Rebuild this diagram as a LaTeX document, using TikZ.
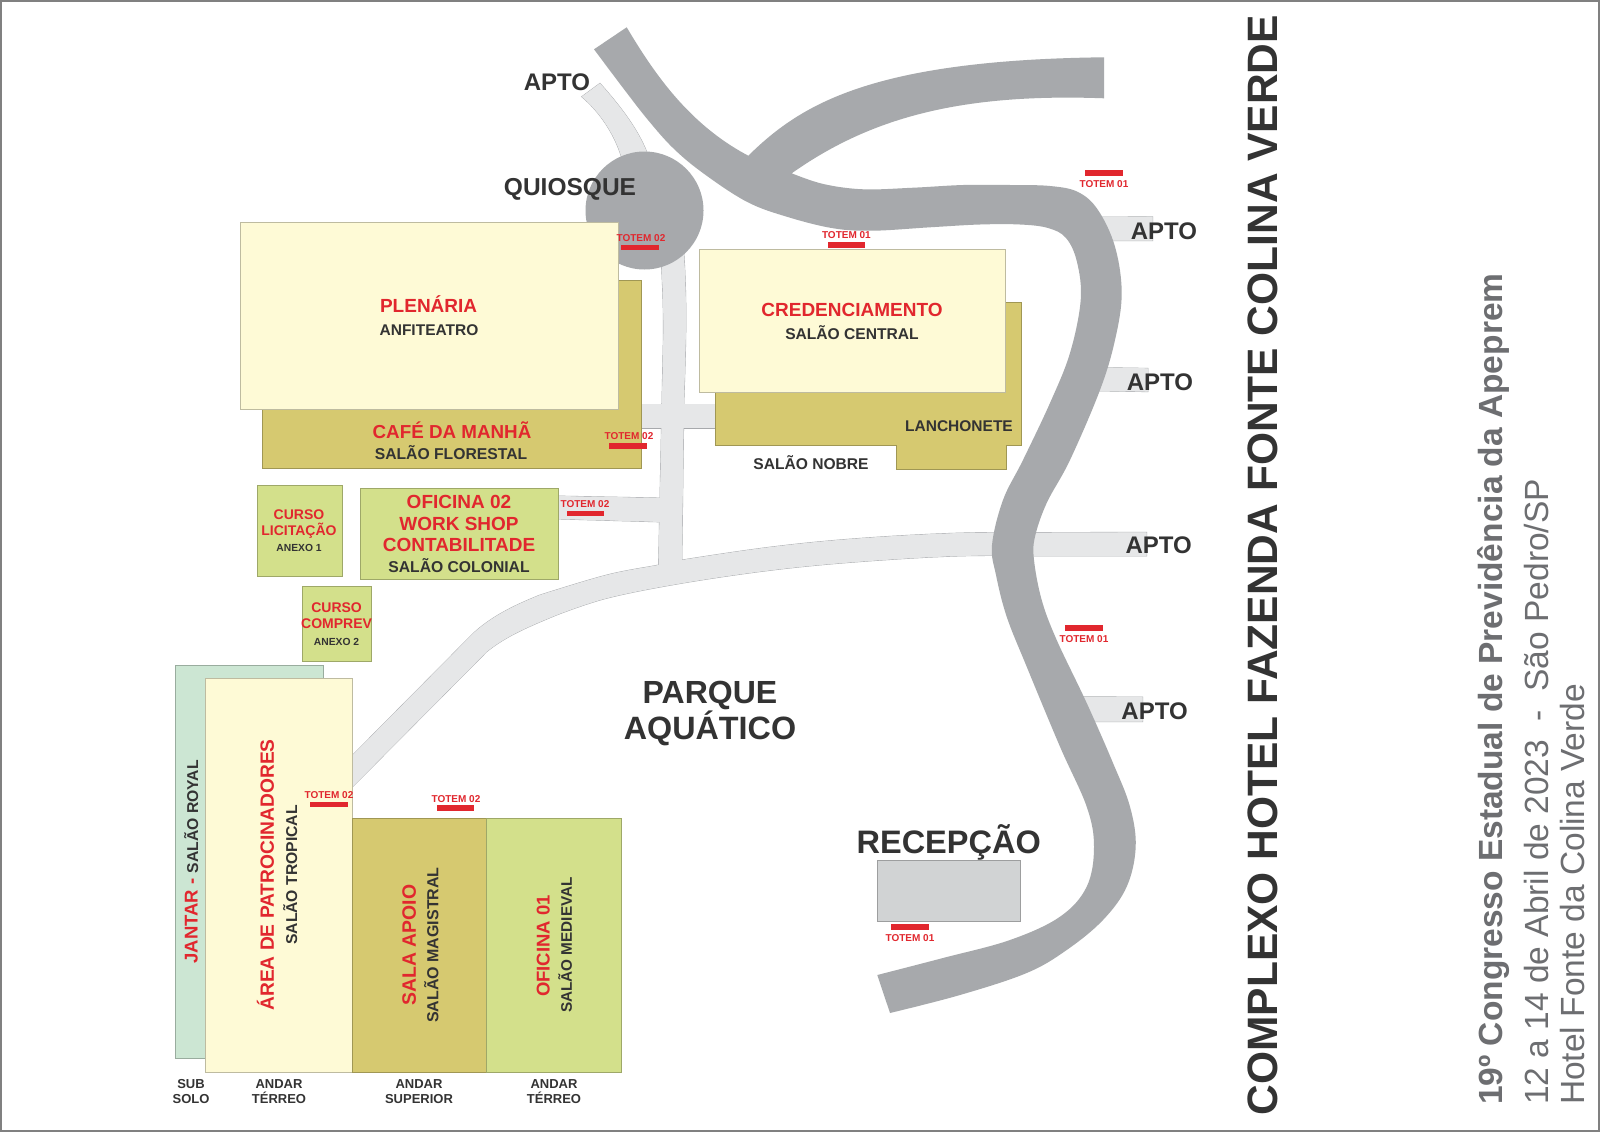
\documentclass[tikz,border=0pt]{standalone}
\usepackage{fontspec}
\setmainfont{Liberation Sans}
\definecolor{rd}{HTML}{E1272E}
\definecolor{dk}{HTML}{333333}
\definecolor{sub}{HTML}{6D6E71}
\definecolor{road}{HTML}{A7A9AC}
\definecolor{lroad}{HTML}{E6E7E8}
\definecolor{cream}{HTML}{FEFAD6}
\definecolor{khaki}{HTML}{D6C970}
\definecolor{lime}{HTML}{D3E08B}
\definecolor{mint}{HTML}{CCE6D3}
\definecolor{recep}{HTML}{D1D3D4}
\newcommand\lightroads[1]{%
  \path[#1] (581.7,96.7) .. controls (600,112) and (615,135) .. (621.7,158) -- (646.7,158) -- (646.7,151.7) .. controls (638,130) and (622,108) .. (600,83.3) -- cycle;
  \path[#1] (660,240) .. controls (663,290) and (664,320) .. (663,350) -- (658.3,575) -- (681.7,575) -- (684,400) .. controls (686,340) and (687.5,300) .. (683,240) -- cycle;
  \path[#1] (638,404) rectangle (718,428);
  \path[#1] (558,496) -- (662,498) -- (662,522) -- (558,519) -- cycle;
  \path[#1] (352.7,755) -- (473.3,633.3) .. controls (490,618) and (510,607) .. (540,595)
     -- plot[smooth,tension=.6] coordinates {(540,595)(606.7,575)(658.3,565)(681.7,560)(773.3,546.7)(860,538.3)(960,533)(1050,532.5)(1146.7,532.3)}
     -- (1146.7,556)
     -- plot[smooth,tension=.6] coordinates {(1146.7,556)(1050,556)(960,556)(860,561.7)(773.3,570)(681.7,583.3)(606.7,598.3)(556.7,615)}
     .. controls (525,628) and (505,637) .. (486.7,651.7) -- (352.7,786.7) -- cycle;
  \path[#1] (1090,217.2) -- (1152.7,216.7) -- (1152.7,240.7) -- (1095,240.7) -- cycle;
  \path[#1] (1085,367.3) -- (1148,368.3) -- (1148,391.7) -- (1085,390.7) -- cycle;
  \path[#1] (1070,696.7) -- (1142.7,697) -- (1142.7,721.7) -- (1080,721.7) -- cycle;
}
\tikzset{
  lab/.style={font=\fontsize{#1}{#1}\selectfont\bfseries,inner sep=0pt,text height=0.716*#1pt,text depth=0pt,text=dk},
  redl/.style={lab=#1,text=rd},
  vert/.style={rotate=90},
  room/.style={draw=#1!75!black,line width=.5pt},
  bar/.style={fill=rd},
}
\begin{document}
\begin{tikzpicture}[x=1pt,y=-1pt]
\useasboundingbox (0,0) rectangle (1600,1132);
\fill[white] (0,0) rectangle (1600,1132);
\draw[gray,line width=2pt] (1,1) rectangle (1599,1131);
% light roads
\lightroads{draw=road,line width=.8pt}
\lightroads{fill=lroad}
% main road
\fill[road]
  (626.7,27.3) .. controls (655,75) and (690,125) .. (748.3,155.7)
  .. controls (800,105) and (870,60) .. (1104,57.3)
  -- (1104,98.3)
  .. controls (960,93) and (870,118) .. (791.7,173.3)
  -- plot[smooth,tension=.6] coordinates {(791.7,173.3)(823.3,184)(863.3,189.3)(913.3,187.7)(963.3,185)(1010,185)(1050,186)(1078,192)(1098,210)(1115,246.7)(1121.7,293.3)(1115,340)(1100,390)(1070,460)(1046.7,503)(1035,536.7)(1034,560)(1041.7,600)(1056.7,640)(1086.7,703)(1113,763)(1130,806.7)(1135.7,846.7)(1126.7,886.7)(1103,920)(1066.7,950)(1026.7,973)(960,995)(890,1013)}
  -- (877.3,975)
  -- plot[smooth,tension=.6] coordinates {(877.3,975)(943,958)(1010,940)(1060,916.7)(1086.7,886.7)(1094,846.7)(1086.7,806.7)(1060,746.7)(1026.7,666.7)(1006.7,616.7)(996,575)(992,545)(1003,500)(1023,460)(1050,403)(1070,353)(1080.7,300)(1077,262)(1066,238)(1048,228)(1020,224.5)(980,224.5)(930,227.3)(873,230.7)(833.3,228.3)(786.7,216.7)(746.7,201.7)(703.3,173.3)(673.3,148.3)(648,120)(623.3,88.3)(594,49.3)}
  -- cycle;
\fill[road] (644.5,210.5) circle[radius=59];
% rooms
\path[fill=khaki,room=khaki] (262,280) rectangle (641,468);
\path[fill=cream,room=cream] (240,222) rectangle (618,409);
\path[fill=khaki,room=khaki] (1005,302) -- (1021,302) -- (1021,445) -- (1006,445) -- (1006,469) -- (896,469) -- (896,445) -- (715,445) -- (715,385) -- (1005,385) -- cycle;
\path[fill=cream,room=cream] (699,249) rectangle (1005,392);
\path[fill=lime,room=lime] (257,485) rectangle (342,576.6);
\path[fill=lime,room=lime] (360,488) rectangle (558,579.6);
\path[fill=lime,room=lime] (302.7,586) rectangle (371.4,661.4);
\path[fill=mint,room=mint] (175.4,665) rectangle (322.8,1058.7);
\path[fill=cream,room=cream] (205.4,678.6) rectangle (352,1072);
\path[fill=khaki,room=khaki] (352,818) rectangle (486.6,1072);
\path[fill=lime,room=lime] (486.6,818) rectangle (621.4,1072);
\path[fill=recep,room=recep] (877.5,860) rectangle (1020.4,921);
% totem bars
\fill[bar] (1085,170) rectangle (1123,175.5);
\fill[bar] (621.4,244.5) rectangle (659,250);
\fill[bar] (827.7,242) rectangle (865.3,247.5);
\fill[bar] (609,443) rectangle (647,448.5);
\fill[bar] (566.5,510.5) rectangle (604,516);
\fill[bar] (310,801.5) rectangle (347.5,807);
\fill[bar] (436.6,805) rectangle (474,810.5);
\fill[bar] (1065,625) rectangle (1102.5,630.5);
\fill[bar] (891,924) rectangle (928.6,929.5);
% totem labels
\node[redl=10] (t1) at (1104,184) {TOTEM 01};
\node[redl=10] (t2) at (641,238) {TOTEM 02};
\node[redl=10] (t3) at (846.4,235) {TOTEM 01};
\node[redl=10] (t4) at (629,436) {TOTEM 02};
\node[redl=10] (t5) at (585,504) {TOTEM 02};
\node[redl=10] (t6) at (329,795) {TOTEM 02};
\node[redl=10] (t7) at (456,799) {TOTEM 02};
\node[redl=10] (t8) at (1084,639) {TOTEM 01};
\node[redl=10] (t9) at (910,938) {TOTEM 01};
% place labels
\node[lab=24] (a0) at (557,81.5) {APTO};
\node[lab=24.5] (q) at (570,186.7) {QUIOSQUE};
\node[lab=24] (a1) at (1164,231) {APTO};
\node[lab=24] (a2) at (1160,382) {APTO};
\node[lab=24] (a3) at (1158.7,545) {APTO};
\node[lab=24] (a4) at (1154.6,710.5) {APTO};
\node[redl=19] (p1) at (428.6,306) {PLENÁRIA};
\node[lab=15.5] (p2) at (429,330) {ANFITEATRO};
\node[redl=19] (c1) at (852,310) {CREDENCIAMENTO};
\node[lab=15.6] (c2) at (852,334) {SALÃO CENTRAL};
\node[lab=15.5] (l1) at (959,426) {LANCHONETE};
\node[lab=15.6] (n1) at (811,463.5) {SALÃO NOBRE};
\node[redl=18.8] (f1) at (452,432) {CAFÉ DA MANHÃ};
\node[lab=15.7] (f2) at (451,454) {SALÃO FLORESTAL};
\node[redl=19] (o1) at (459,501.6) {OFICINA 02};
\node[redl=19] (o2) at (459,523.4) {WORK SHOP};
\node[redl=19] (o3) at (459,545) {CONTABILITADE};
\node[lab=15.7] (o4) at (459,566.7) {SALÃO COLONIAL};
\node[redl=14] (u1) at (299,514.4) {CURSO};
\node[redl=14] (u2) at (299,530) {LICITAÇÃO};
\node[lab=10.3] (u3) at (299,548) {ANEXO 1};
\node[redl=14] (v1) at (336.6,607.4) {CURSO};
\node[redl=14] (v2) at (336.6,623) {COMPREV};
\node[lab=10.3] (v3) at (336.6,641.7) {ANEXO 2};
\node[lab=32] (w1) at (710,692) {PARQUE};
\node[lab=32.3] (w2) at (710,728) {AQUÁTICO};
\node[lab=32.5] (r1) at (948.7,841.6) {RECEPÇÃO};
% vertical room labels
\node[redl=18.5,vert,anchor=west] (j1) at (191,963.6) {JANTAR -};
\node[lab=15.7,vert,anchor=east] (j2) at (192.5,760) {SALÃO ROYAL};
\node[redl=19.2,vert] (ar1) at (267,875) {ÁREA DE PATROCINADORES};
\node[lab=15.7,vert] (ar2) at (291.5,875) {SALÃO TROPICAL};
\node[redl=19.4,vert] (s1) at (409,945) {SALA APOIO};
\node[lab=16,vert] (s2) at (432.6,945) {SALÃO MAGISTRAL};
\node[redl=18.5,vert] (m1) at (543,946) {OFICINA 01};
\node[lab=15.3,vert] (m2) at (566.5,945) {SALÃO MEDIEVAL};
% floors
\node[lab=13] (b1) at (191,1084) {SUB};
\node[lab=13] (b2) at (191,1098.6) {SOLO};
\node[lab=13] (b3) at (279,1084) {ANDAR};
\node[lab=13] (b4) at (279,1098.6) {TÉRREO};
\node[lab=13] (b5) at (419,1084) {ANDAR};
\node[lab=13] (b6) at (419,1098.6) {SUPERIOR};
\node[lab=13] (b7) at (554,1084) {ANDAR};
\node[lab=13] (b8) at (554,1098.6) {TÉRREO};
% titles
\node[lab=42.5,vert,anchor=west] (ti) at (1262,1115.5) {COMPLEXO HOTEL FAZENDA FONTE COLINA VERDE};
\node[lab=33.5,vert,anchor=west,text=sub] (s1a) at (1490,1105) {19º Congresso Estadual de Previdência da Apeprem};
\node[lab=33.5,vert,anchor=west,text=sub,font=\fontsize{33.5}{33.5}\selectfont] (s2a) at (1536,1105) {12 a 14 de Abril de 2023~~-~~São Pedro/SP};
\node[lab=33.5,vert,anchor=west,text=sub,font=\fontsize{33.5}{33.5}\selectfont] (s3a) at (1572.6,1105) {Hotel Fonte da Colina Verde};
\end{tikzpicture}
\end{document}
